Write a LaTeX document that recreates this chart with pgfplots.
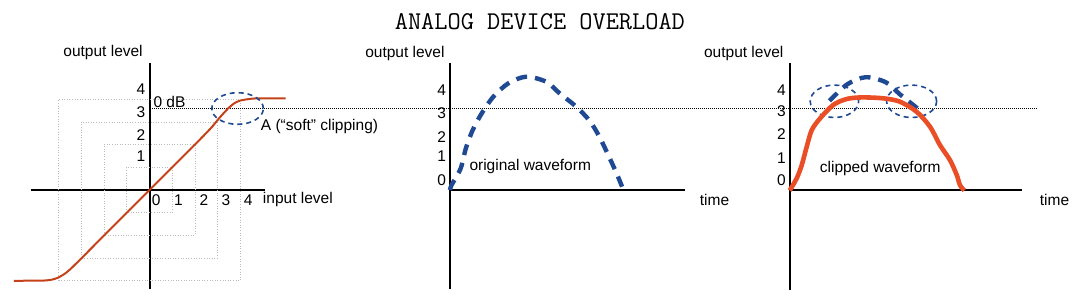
\documentclass[border=0pt]{standalone}
\usepackage{fontspec}
\setmainfont{Liberation Sans}
\usepackage{pgfplots}
\pgfplotsset{compat=1.18}
\definecolor{clipred}{HTML}{C44219}
\definecolor{clipor}{HTML}{EA4E26}
\definecolor{wblue}{HTML}{1F4A93}
\definecolor{sqgray}{HTML}{BBBBBB}
\newcommand\lab{\fontsize{15.5}{18}\selectfont}
\pgfplotsset{panel/.style={x=22.7pt, y=22.7pt, anchor=origin,
  axis lines=middle, axis line style={line width=2pt,-,black},
  xtick=\empty, ytick=\empty, enlargelimits=false, clip=false,
  ymin=-4.38, ymax=5.61}}
\begin{document}
\begin{tikzpicture}[every node/.style={font=\lab, text=black, inner sep=0pt}]
\useasboundingbox (0,0) rectangle (1078pt,304pt);
% ---------------- panel 1 ----------------
\begin{axis}[panel, at={(149.5pt,114pt)}, xmin=-5.23, xmax=5.09]
\draw[sqgray, line width=0.7pt, dash pattern=on 1pt off 1.6pt] (axis cs:-1,-1) rectangle (axis cs:1,1);
\draw[sqgray, line width=0.7pt, dash pattern=on 1pt off 1.6pt] (axis cs:-2,-2) rectangle (axis cs:2,2);
\draw[sqgray, line width=0.7pt, dash pattern=on 1pt off 1.6pt] (axis cs:-3,-3) rectangle (axis cs:3,3);
\draw[sqgray, line width=0.7pt, dash pattern=on 1pt off 1.6pt] (axis cs:-4,-4) rectangle (axis cs:4,4);
\draw[black, line width=0.9pt, dash pattern=on 0.9pt off 1.1pt] (axis cs:0.1,3.6) -- (axis cs:39.05,3.6);
\addplot[clipred, line width=2pt, smooth, tension=0.35] coordinates {
 (-5.97,-4.0) (-4.68,-3.99) (-4.3,-3.95) (-4.02,-3.86) (-3.75,-3.7) (-3.5,-3.5)
 (-2.99,-3.0) (-2,-2) (0,0) (2,2) (2.7,2.72) (3.1,3.2) (3.47,3.6) (3.75,3.83)
 (4.0,3.94) (4.4,4.01) (4.8,4.04) (6.0,4.04)};
\draw[wblue, line width=1.6pt, dash pattern=on 5pt off 4pt] (axis cs:3.88,3.59) ellipse [x radius=25.8pt, y radius=15.8pt];
\node[anchor=base west] at (axis cs:-3.8,5.86) {output level};
\node at (axis cs:-0.38,4.44) {4};
\node at (axis cs:-0.38,3.45) {3};
\node at (axis cs:-0.38,2.42) {2};
\node at (axis cs:-0.38,1.47) {1};
\node at (axis cs:0.29,-0.44) {0};
\node at (axis cs:1.27,-0.44) {1};
\node at (axis cs:2.4,-0.44) {2};
\node at (axis cs:3.37,-0.44) {3};
\node at (axis cs:4.35,-0.44) {4};
\node[anchor=west] at (axis cs:4.99,-0.44) {input level};
\node[anchor=west] at (axis cs:0.17,3.89) {0 dB};
\node[anchor=west] at (axis cs:4.9,2.79) {A (“soft” clipping)};
\end{axis}
% ---------------- panel 2 ----------------
\begin{axis}[panel, at={(450pt,114pt)}, xmin=0, xmax=10.35]
\addplot[wblue, line width=4.4pt, dash pattern=on 11pt off 8pt, smooth, tension=0.5] coordinates {
 (0,0) (0.07,0.22) (0.47,0.95) (0.70,1.84) (1.0,2.64) (1.40,3.38) (1.91,4.11)
 (2.57,4.70) (3.35,4.99) (4.23,4.77) (4.85,4.24) (5.55,3.68) (6.15,3.05)
 (6.58,2.35) (6.97,1.54) (7.34,0.73) (7.64,0)};
\node[anchor=base west] at (axis cs:-3.74,5.85) {output level};
\node at (axis cs:-0.37,4.41) {4};
\node at (axis cs:-0.37,3.38) {3};
\node at (axis cs:-0.37,2.35) {2};
\node at (axis cs:-0.37,1.47) {1};
\node at (axis cs:-0.37,0.44) {0};
\node[anchor=west] at (axis cs:0.85,1.03) {original waveform};
\node[anchor=west] at (axis cs:11.0,-0.44) {time};
\node[font=\fontsize{25.6}{28}\selectfont\ttfamily] at (axis cs:3.96,7.4) {ANALOG DEVICE OVERLOAD};
\end{axis}
% ---------------- panel 3 ----------------
\begin{axis}[panel, at={(789.7pt,113.5pt)}, xmin=0, xmax=10.23]
\addplot[wblue, line width=4.4pt, dash pattern=on 11pt off 8pt, smooth, tension=0.5] coordinates {
 (1.75,3.95) (1.91,4.11) (2.57,4.70) (3.35,4.99) (4.23,4.77) (4.85,4.24) (5.55,3.68) (5.75,3.5)};
\draw[wblue, line width=1.6pt, dash pattern=on 5pt off 4pt] (axis cs:1.97,3.93) ellipse [x radius=24.2pt, y radius=16.2pt];
\draw[wblue, line width=1.6pt, dash pattern=on 5pt off 4pt] (axis cs:5.37,3.93) ellipse [x radius=25pt, y radius=16.2pt];
\addplot[clipor, line width=4.6pt, smooth, tension=0.5] coordinates {
 (0.0,0.0) (0.31,0.54) (0.53,1.12) (0.75,1.93) (0.97,2.66) (1.34,3.18) (1.92,3.77)
 (2.51,4.03) (3.17,4.10) (4.13,4.06) (4.86,3.91) (5.59,3.47) (6.18,2.81) (6.62,2.0)
 (7.06,1.34) (7.36,0.68) (7.50,0.24) (7.69,0.0)};
\node[anchor=base west] at (axis cs:-3.78,5.87) {output level};
\node at (axis cs:-0.37,4.43) {4};
\node at (axis cs:-0.37,3.5) {3};
\node at (axis cs:-0.37,2.5) {2};
\node at (axis cs:-0.37,1.42) {1};
\node at (axis cs:-0.37,0.46) {0};
\node[anchor=west] at (axis cs:1.32,0.98) {clipped waveform};
\node[anchor=west] at (axis cs:11.01,-0.42) {time};
\end{axis}
\end{tikzpicture}
\end{document}
